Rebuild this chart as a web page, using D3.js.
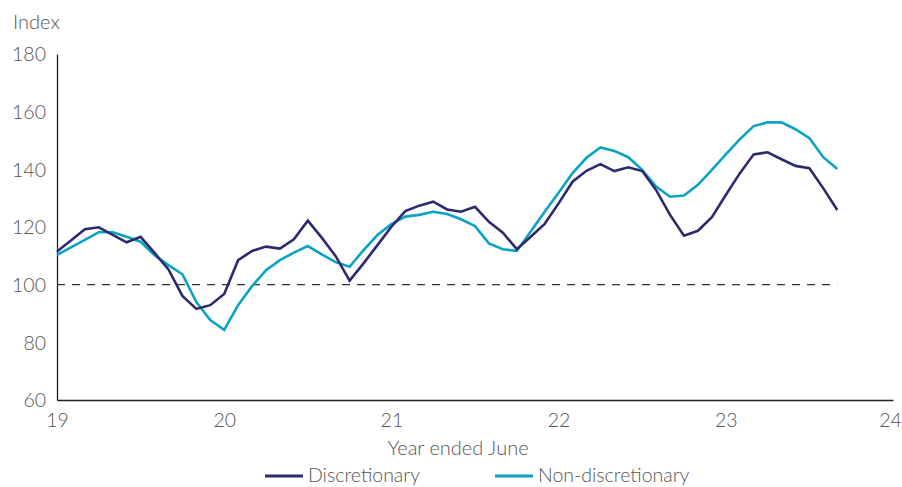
<!DOCTYPE html>
<html>
<head>
<meta charset="utf-8">
<script src="https://cdn.jsdelivr.net/npm/d3@7"></script>
<style>
  html, body { margin: 0; padding: 0; background: #fff; }
  svg text { font-family: Lato, "Open Sans", sans-serif; font-weight: 300; fill: #555; }
</style>
</head>
<body>
<svg id="chart" width="902" height="487"></svg>
<script>
// Monthly index values, first point at the start of the 2019 financial-year tick
const startYear = 19;
const discretionary = [
  111.5, 115.3, 119.2, 119.9, 117.3, 114.7, 116.6, 111.0, 105.3, 96.1,
  91.6, 92.9, 96.8, 108.5, 111.7, 113.2, 112.5, 115.7, 122.2, 116.3,
  109.9, 101.4, 107.4, 113.7, 120.1, 125.5, 127.4, 128.8, 126.1, 125.3,
  127.0, 121.8, 118.0, 112.3, 116.6, 121.1, 128.2, 135.7, 139.5, 141.8,
  139.4, 140.7, 139.4, 132.8, 124.2, 117.0, 118.7, 123.4, 131.1, 138.6,
  145.2, 145.9, 143.5, 141.2, 140.4, 133.4, 125.9
];
const nonDiscretionary = [
  110.3, 112.9, 115.5, 118.2, 118.2, 116.6, 114.9, 110.2, 106.8, 103.6,
  94.0, 87.7, 84.3, 92.9, 99.5, 105.0, 108.5, 111.1, 113.4, 110.5,
  107.8, 106.2, 112.0, 117.2, 121.0, 123.6, 124.2, 125.3, 124.5, 122.7,
  120.3, 114.3, 112.3, 111.7, 118.4, 125.3, 131.9, 138.7, 144.0, 147.6,
  146.4, 144.2, 139.8, 134.0, 130.5, 130.9, 134.6, 139.8, 145.2, 150.4,
  155.0, 156.3, 156.3, 153.9, 150.8, 144.2, 140.1
];
const seriesNames = ["Discretionary", "Non-discretionary"];
const seriesColors = ["#2c2b6d", "#0aa3c4"];
const xTicks = [19, 20, 21, 22, 23, 24];
const yTicks = [60, 80, 100, 120, 140, 160, 180];
const baseline = 100;

const svg = d3.select("#chart");
const margin = { left: 57, right: 9, top: 54, bottom: 87 };
const W = 902, H = 487;

const x = d3.scaleLinear().domain([19, 24]).range([margin.left, W - margin.right]);
const y = d3.scaleLinear().domain([60, 180]).range([H - margin.bottom, margin.top]);

const monthX = i => x(startYear + i / 12);

// Axes
const yAxis = svg.append("g")
  .attr("transform", `translate(${margin.left},0)`)
  .call(d3.axisLeft(y).tickValues(yTicks).tickSize(0).tickPadding(11));
yAxis.select(".domain").attr("stroke", "#222").attr("stroke-width", 1.3);
yAxis.selectAll("text").style("font-size", "19.5px").attr("dy", "0.35em");

const xAxis = svg.append("g")
  .attr("transform", `translate(0,${y(60)})`)
  .call(d3.axisBottom(x).tickValues(xTicks).tickSize(0).tickPadding(13).tickFormat(d3.format("d")));
xAxis.select(".domain").attr("stroke", "#222").attr("stroke-width", 1.3);
xAxis.selectAll("text").style("font-size", "19.5px");
// keep the last tick label inside the canvas
xAxis.selectAll(".tick").filter(d => d === 24).select("text").attr("x", -3);

// Axis titles
svg.append("text").attr("x", 13).attr("y", 29).style("font-size", "20px").text("Index");
svg.append("text").attr("x", 458).attr("y", 455).attr("text-anchor", "middle")
  .style("font-size", "20px").text("Year ended June");

// Baseline at 100
svg.append("line")
  .attr("x1", monthX(0)).attr("x2", monthX(discretionary.length - 1))
  .attr("y1", y(baseline)).attr("y2", y(baseline))
  .attr("stroke", "#333").attr("stroke-width", 1.3).attr("stroke-dasharray", "8,7");

// Series lines
const line = d3.line().x((d, i) => monthX(i)).y(d => y(d));
[nonDiscretionary, discretionary].forEach((vals, k) => {
  const idx = k === 0 ? 1 : 0;
  svg.append("path")
    .datum(vals)
    .attr("fill", "none")
    .attr("stroke", seriesColors[idx])
    .attr("stroke-width", 2.6)
    .attr("stroke-linejoin", "miter")
    .attr("d", line);
});

// Legend
const legendItems = [
  { name: seriesNames[0], color: seriesColors[0], x: 265 },
  { name: seriesNames[1], color: seriesColors[1], x: 495 }
];
const lg = svg.append("g").attr("transform", "translate(0,476)");
legendItems.forEach(it => {
  lg.append("line").attr("x1", it.x).attr("x2", it.x + 38).attr("y1", 0).attr("y2", 0)
    .attr("stroke", it.color).attr("stroke-width", 3);
  lg.append("text").attr("x", it.x + 43).attr("y", 0).attr("dy", "0.32em")
    .style("font-size", "19.5px").text(it.name);
});
</script>
</body>
</html>
